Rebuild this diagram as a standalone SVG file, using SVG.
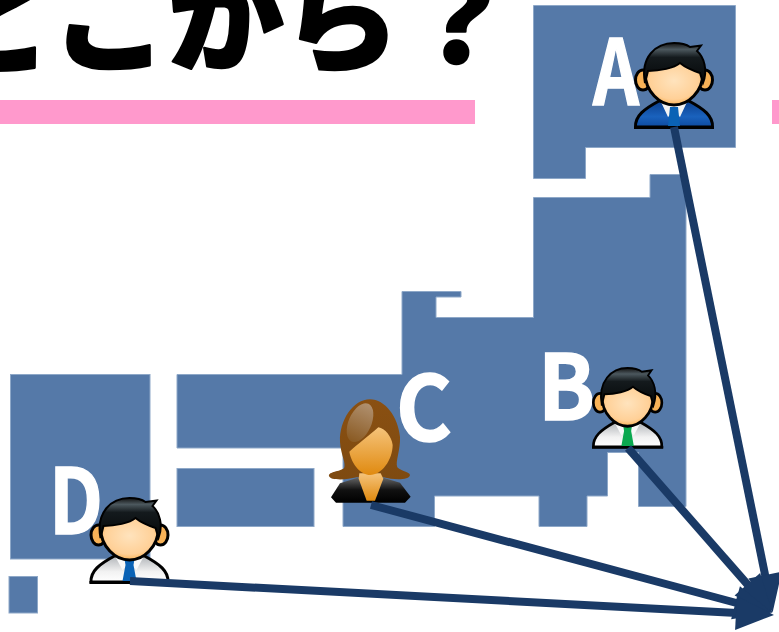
<svg xmlns="http://www.w3.org/2000/svg" width="779" height="632" viewBox="0 0 779 632">
<style>
.map{fill:#5579a8;stroke:#8ea8c8;stroke-width:1}
.pink{fill:#ff99cc}
.lbl{font-family:"Noto Sans CJK JP","Liberation Sans",sans-serif;font-weight:700;font-size:90px;fill:#fff;stroke:#fff;stroke-width:1.500}
.title{font-family:"Noto Sans CJK JP",sans-serif;font-weight:900;font-size:116px;fill:#000;stroke:#000;stroke-width:2.500;stroke-linejoin:round}
.con{fill:none;stroke:#1a3a66;stroke-width:8;marker-end:url(#head)}
.out{stroke:#000;stroke-width:3}
</style>
<defs>
<marker id="head" markerUnits="userSpaceOnUse" markerWidth="42" markerHeight="36" refX="1" refY="17.500" orient="auto" overflow="visible"><path d="M0,0.500 L38,17.500 L0,34.500 Z" fill="#1a3a66"/></marker>
<radialGradient id="skin" cx=".5" cy=".45" r=".6"><stop offset="0" stop-color="#ffe3bd"/><stop offset=".7" stop-color="#ffd097"/><stop offset="1" stop-color="#f8a83f"/></radialGradient>
<linearGradient id="hair" x1="0" y1="0" x2="0" y2="1"><stop offset="0" stop-color="#111"/><stop offset=".16" stop-color="#4c585e"/><stop offset=".36" stop-color="#141a1d"/><stop offset="1" stop-color="#050708"/></linearGradient>
<linearGradient id="shirt" x1="0" y1="0" x2="0" y2="1"><stop offset="0" stop-color="#b0b4b8"/><stop offset=".6" stop-color="#f2f2f2"/><stop offset="1" stop-color="#fff"/></linearGradient>
<linearGradient id="suit" x1="0" y1="0" x2="0" y2="1"><stop offset="0" stop-color="#0b3f8e"/><stop offset=".6" stop-color="#1a62bd"/><stop offset="1" stop-color="#0d4a9f"/></linearGradient>
<linearGradient id="wh" x1="0" y1="0" x2="0" y2="1"><stop offset="0" stop-color="#8a5012"/><stop offset="1" stop-color="#7e4a10"/></linearGradient>
<linearGradient id="wh2" x1="0" y1="0" x2="0" y2="1"><stop offset="0" stop-color="#b0906f"/><stop offset="1" stop-color="#8a5a22"/></linearGradient>
<linearGradient id="ws" x1="0" y1="0" x2="0" y2="1"><stop offset="0" stop-color="#f5c37a"/><stop offset="1" stop-color="#e08a10"/></linearGradient>
<linearGradient id="wb" x1="0" y1="0" x2="0" y2="1"><stop offset="0" stop-color="#666"/><stop offset=".5" stop-color="#111"/><stop offset="1" stop-color="#000"/></linearGradient>
<g id="man-head">
<ellipse class="out" cx="9" cy="38" rx="7.500" ry="10" fill="#f8b257"/>
<ellipse class="out" cx="71" cy="38" rx="7.500" ry="10" fill="#f8b257"/>
<path class="out" d="M11,30 C11,50 26,63 40,63 C54,63 69,50 69,30 C69,15 11,15 11,30 Z" fill="url(#skin)"/>
<path d="M11,41 C6,15 22,1 40,1 C46,1 52,2 56,5 L67,3.500 L63,9 C70,15 74,28 69,41 L66,31 C60,29 52,26 46,21 C40,26 26,29 14,29 Z" fill="url(#hair)" stroke="#000" stroke-width="2"/>
</g>
<g id="man-shirt">
<path class="out" d="M1.500,85 C1,74 10,67 25,59 L55,59 C70,67 79,74 78.500,85 Z" fill="url(#shirt)"/>
<path d="M26,60 L54,60 L47,73 L40,67 L33,73 Z" fill="#f8f8f8"/>
<path d="M0,85.500 H80" stroke="#000" stroke-width="3"/>
</g>
</defs>
<g id="title"><text class="title" x="-61" y="62">どこから？</text></g>
<g id="rules"><rect class="pink" x="0" y="100" width="475" height="24"/><rect class="pink" x="772" y="100" width="7" height="24"/></g>
<g id="map">
<path class="map" d="M533.500,5.500 H735.500 V147.500 H585.500 V178.500 H533.500 Z"/>
<path class="map" d="M533.500,197.500 H650 V174.500 H686 V506.500 H638.500 V452.500 H607.500 V496 H587 V526.500 H539 V496 H434.500 V526.500 H343 V448 H177 V374.500 H402 V291.500 H461 V297 H436 V317.500 H533.500 Z"/>
<rect class="map" x="177" y="468.500" width="137" height="58"/>
<rect class="map" x="10.500" y="374.500" width="139.500" height="184.500"/>
<rect class="map" x="9" y="576.500" width="28.500" height="36.500"/>
</g>
<g id="label-a"><text class="lbl" x="593" y="105" textLength="46" lengthAdjust="spacingAndGlyphs">A</text></g>
<g id="label-b"><text class="lbl" x="538" y="420" textLength="57" lengthAdjust="spacingAndGlyphs">B</text></g>
<g id="label-c"><text class="lbl" x="396" y="441" textLength="56" lengthAdjust="spacingAndGlyphs">C</text></g>
<g id="label-d"><text class="lbl" x="49" y="534" textLength="54" lengthAdjust="spacingAndGlyphs">D</text></g>
<g id="person-a" transform="translate(634,42)">
<path class="out" d="M1.500,85 C1,74 10,67 25,59 L55,59 C70,67 79,74 78.500,85 Z" fill="url(#suit)"/>
<path d="M27,60 L53,60 L46,75 L40,69 L34,75 Z" fill="#f4f4f4"/>
<path d="M36,65 H44 L46,84 H34 Z" fill="#0a62b5"/>
<path d="M0,85.500 H80" stroke="#000" stroke-width="3"/>
<use href="#man-head"/>
</g>
<g id="person-b" transform="translate(592,367) scale(.89 .94)">
<use href="#man-shirt"/>
<path d="M35,62 H45 L44,68 L47,84 H33 L36,68 Z" fill="#0aa84f"/>
<use href="#man-head"/>
</g>
<g id="person-d" transform="translate(89.500,497)">
<use href="#man-shirt"/>
<path d="M35,62 H45 L44,68 L47,84 H33 L36,68 Z" fill="#0a62b5"/>
<use href="#man-head"/>
</g>
<g id="person-c" transform="translate(320,390) scale(.3333)">
<path d="M118,262 L60,280 L33,322 L48,338 H255 L272,320 L240,278 L185,262 Z" fill="url(#wb)"/>
<path d="M150,28 C100,28 58,90 60,155 C62,195 80,220 72,235 C60,245 25,245 27,258 C30,272 80,270 110,262 L190,262 C220,270 268,272 270,255 C268,245 245,245 232,232 C225,215 242,180 240,140 C234,80 195,28 150,28 Z" fill="url(#wh)"/>
<ellipse cx="120" cy="98" rx="34" ry="62" transform="rotate(24 120 98)" fill="url(#wh2)"/>
<path d="M118,250 H182 L190,266 L165,332 H140 L116,266 Z" fill="url(#ws)"/>
<path d="M175,112 C150,135 110,165 88,185 C95,225 125,255 150,255 C185,255 218,210 218,165 C215,140 195,115 175,112 Z" fill="url(#ws)"/>
</g>
<g id="connectors">
<path class="con" d="M674,127 L765.300,576"/>
<path class="con" d="M628,448 L748,585"/>
<path class="con" d="M371,505 L736.500,603"/>
<path class="con" d="M130,581 L737,613"/>
</g>
</svg>
